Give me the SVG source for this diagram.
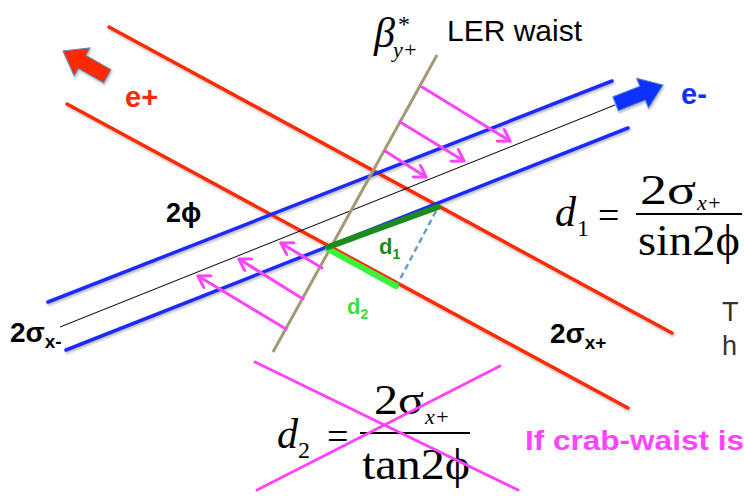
<svg xmlns="http://www.w3.org/2000/svg" width="744" height="496" viewBox="0 0 744 496">
<defs>
<filter id="sh" x="-10%" y="-10%" width="120%" height="120%">
<feDropShadow dx="1" dy="2" stdDeviation="1" flood-color="#000" flood-opacity="0.25"/>
</filter>
<marker id="mh" markerUnits="userSpaceOnUse" markerWidth="16" markerHeight="16" refX="13" refY="8" orient="auto">
<path d="M2,1 L13,8 L2,15" fill="none" stroke="#ff44ff" stroke-width="3" stroke-linecap="round" stroke-linejoin="round"/>
</marker>
</defs>
<style>
.blue{stroke:#1e2cff;stroke-width:3.5;fill:none;stroke-linecap:round}
.red{stroke:#ff2a00;stroke-width:3.5;fill:none;stroke-linecap:round}
.mag{stroke:#ff44ff;stroke-width:3;fill:none;stroke-linecap:round}
.lbl{font-family:"Liberation Sans",Arial,sans-serif;font-weight:bold}
.reg{font-family:"Liberation Sans",Arial,sans-serif}
.ser{font-family:"Liberation Serif","Times New Roman",serif;fill:#000}
.it{font-style:italic}
</style>
<rect width="744" height="496" fill="#fff"/>
<g id="beams" filter="url(#sh)">
<line class="red" x1="109" y1="27" x2="672" y2="333"/>
<line class="red" x1="67" y1="104" x2="628" y2="408"/>
<line class="blue" x1="48" y1="302" x2="612" y2="81"/>
<line class="blue" x1="66" y1="350" x2="628" y2="128"/>
</g>
<line id="axis" x1="60" y1="327" x2="615" y2="105" stroke="#000" stroke-width="1"/>
<line id="waist" x1="437" y1="55" x2="273" y2="352" stroke="#a39a72" stroke-width="3"/>
<g id="connectors">
<line class="mag" x1="422" y1="87" x2="510" y2="141" marker-end="url(#mh)"/>
<line class="mag" x1="400" y1="122" x2="464" y2="161" marker-end="url(#mh)"/>
<line class="mag" x1="385" y1="151" x2="426" y2="177" marker-end="url(#mh)"/>
<line class="mag" x1="322" y1="268" x2="281" y2="243" marker-end="url(#mh)"/>
<line class="mag" x1="303" y1="299" x2="239" y2="259" marker-end="url(#mh)"/>
<line class="mag" x1="286" y1="329" x2="198" y2="276" marker-end="url(#mh)"/>
</g>
<g id="distances">
<line x1="436" y1="211" x2="398" y2="283" stroke="#6a9bd1" stroke-width="2.5" stroke-dasharray="6 4"/>
<line x1="328" y1="249" x2="396" y2="286" stroke="#3cf03c" stroke-width="6" stroke-linecap="round"/>
<line x1="328" y1="247" x2="438" y2="207" stroke="#1c8c1c" stroke-width="6" stroke-linecap="round"/>
</g>
<g id="arrow-eplus" filter="url(#sh)">
<polygon transform="translate(63,51) rotate(209.6)" points="0,0 -22,-16 -22,-7.5 -51,-7.5 -51,7.5 -22,7.5 -22,16" fill="#ff2a00" stroke="#5b86c0" stroke-width="1"/>
</g>
<g id="arrow-eminus" filter="url(#sh)">
<polygon transform="translate(663,85) rotate(-21.6)" points="0,0 -22,-16 -22,-7.5 -51,-7.5 -51,7.5 -22,7.5 -22,16" fill="#1030ff" stroke="#5b86c0" stroke-width="1"/>
</g>
<g id="labels">
<text class="lbl" x="125" y="107" font-size="29" fill="#ff2a00">e+</text>
<text class="lbl" x="681" y="104" font-size="29" fill="#1030ff">e-</text>
<text class="lbl" x="166" y="222" font-size="27" fill="#000">2ϕ</text>
<text class="lbl" x="10" y="342" font-size="28" fill="#000">2σ<tspan font-size="19" dy="6">x-</tspan></text>
<text class="lbl" x="550" y="343" font-size="28" fill="#000">2σ<tspan font-size="19" dy="6">x+</tspan></text>
<text class="lbl" x="379" y="254" font-size="22" fill="#1c8c1c">d<tspan font-size="14" dy="5">1</tspan></text>
<text class="lbl" x="347" y="314" font-size="22" fill="#3cdd3c">d<tspan font-size="14" dy="5">2</tspan></text>
<text class="reg" x="447" y="41" font-size="30" fill="#000">LER waist</text>
<text class="reg" x="722" y="321" font-size="27" fill="#333">T</text>
<text class="reg" x="722" y="355" font-size="27" fill="#333">h</text>
<text class="lbl" x="525" y="450" font-size="28" fill="#ff44ff" textLength="219" lengthAdjust="spacingAndGlyphs">If crab-waist is</text>
</g>
<g id="beta">
<text class="ser it" x="374" y="47" font-size="42">β</text>
<text class="ser" x="398" y="32" font-size="24">*</text>
<text class="ser it" x="393" y="57" font-size="22">y+</text>
</g>
<g id="formula-d1">
<text class="ser it" x="555" y="226" font-size="42">d</text>
<text class="ser" x="577" y="236" font-size="24">1</text>
<text class="ser" x="598" y="228" font-size="38">=</text>
<line x1="636" y1="214" x2="742" y2="214" stroke="#000" stroke-width="2"/>
<text class="ser" x="640" y="204" font-size="42" textLength="56" lengthAdjust="spacingAndGlyphs">2σ</text>
<text class="ser it" x="697" y="210" font-size="22">x+</text>
<text class="ser" x="638" y="255" font-size="44" textLength="102" lengthAdjust="spacingAndGlyphs">sin2ϕ</text>
</g>
<g id="formula-d2">
<text class="ser it" x="277" y="448" font-size="42">d</text>
<text class="ser" x="298" y="458" font-size="24">2</text>
<text class="ser" x="327" y="449" font-size="38">=</text>
<line x1="360" y1="433" x2="470" y2="433" stroke="#000" stroke-width="2"/>
<text class="ser" x="374" y="414" font-size="42" textLength="50" lengthAdjust="spacingAndGlyphs">2σ</text>
<text class="ser it" x="425" y="424" font-size="22">x+</text>
<text class="ser" x="362" y="479" font-size="44" textLength="108" lengthAdjust="spacingAndGlyphs">tan2ϕ</text>
</g>
<g id="cross">
<line class="mag" x1="255" y1="362" x2="518" y2="490"/>
<line class="mag" x1="500" y1="366" x2="257" y2="490"/>
</g>
</svg>
